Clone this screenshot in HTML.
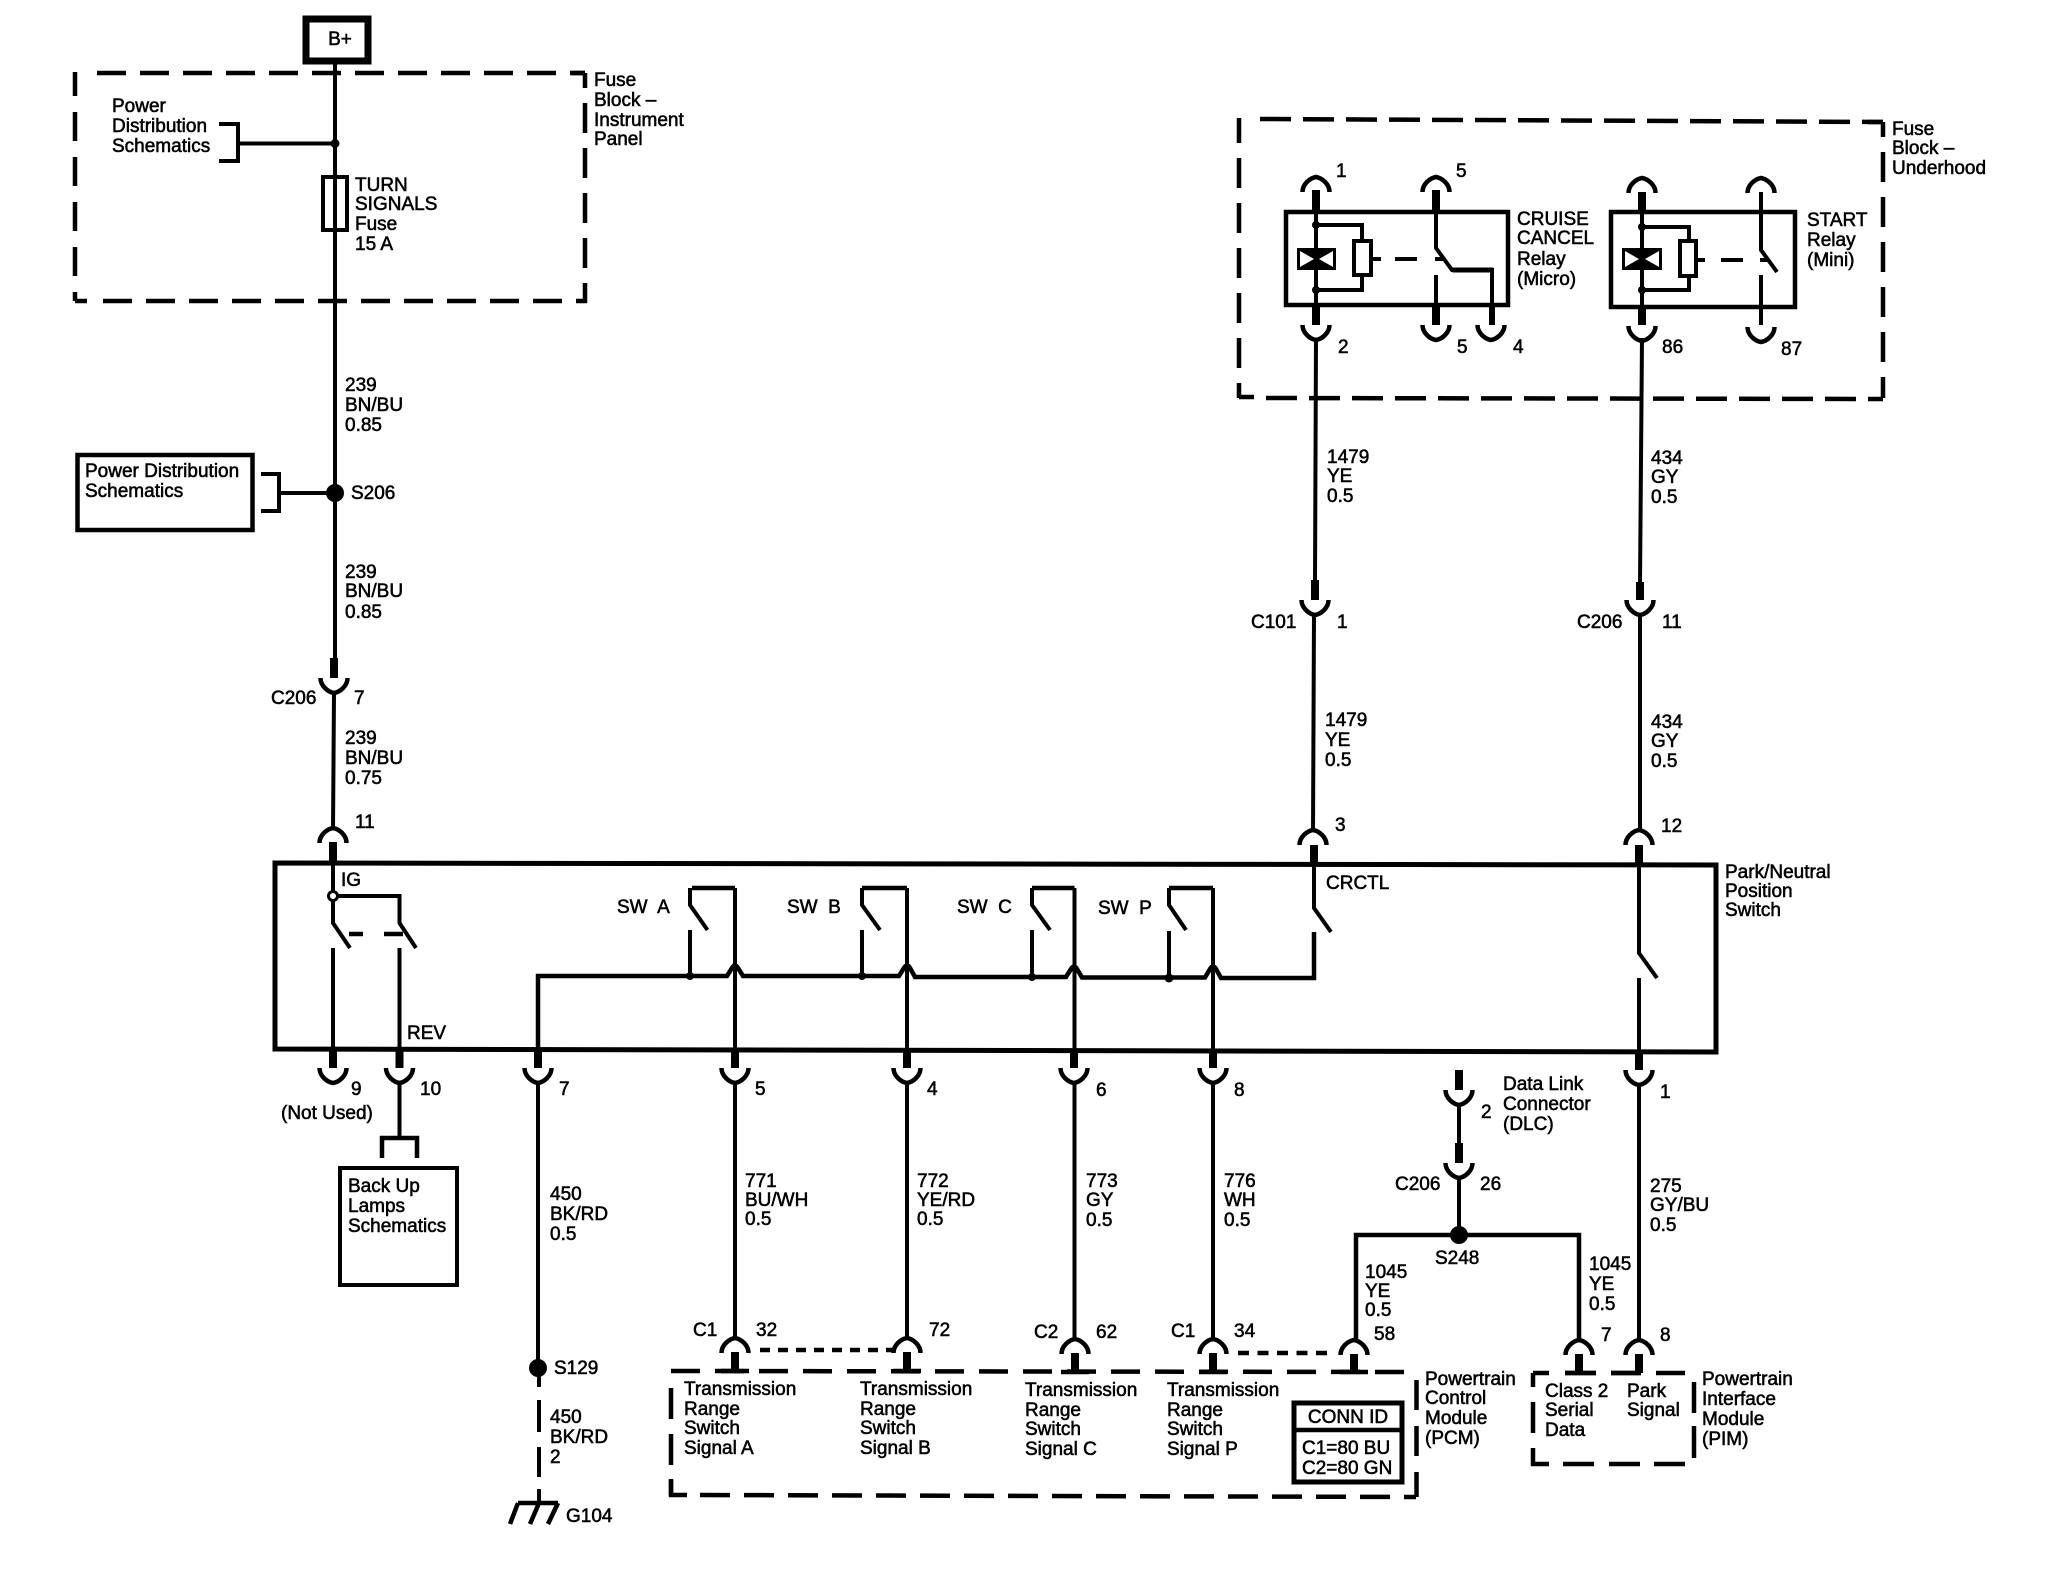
<!DOCTYPE html>
<html><head><meta charset="utf-8">
<style>
html,body{margin:0;padding:0;background:#fff;width:2050px;height:1584px;overflow:hidden}
svg{display:block}
text{font-family:"Liberation Sans",sans-serif;font-size:19px;fill:#000;stroke:#000;stroke-width:.55px;transform:translateY(-1px)}
.w{fill:none;stroke:#000;stroke-width:4}
.b{fill:none;stroke:#000;stroke-width:4.500}
.s{fill:none;stroke:#000;stroke-width:8}
.d{fill:none;stroke:#000;stroke-width:4.500}
</style></head><body>
<svg xmlns="http://www.w3.org/2000/svg" width="2050" height="1584" viewBox="0 0 2050 1584">
<defs>
<path id="cup" d="M-13.5,0 C-13.5,8 -6,14 0,15 C6,14 13.5,8 13.5,0" fill="none" stroke="#000" stroke-width="4.5"/>
<path id="cap" d="M-13.5,15 C-13.5,7 -6,1 0,0 C6,1 13.5,7 13.5,15" fill="none" stroke="#000" stroke-width="4.5"/>
</defs>
<rect width="2050" height="1584" fill="#fff"/>

<!-- B+ -->
<rect x="306" y="19" width="62" height="42" fill="#fff" stroke="#000" stroke-width="7"/>
<text x="340" y="46" text-anchor="middle" style="font-size:19px">B+</text>

<!-- Fuse block IP -->
<line class="d" x1="97" y1="73" x2="585" y2="73" stroke-dasharray="29 14"/>
<path class="d" d="M585,73 H571"/>
<line class="d" x1="75" y1="72" x2="75" y2="301" stroke-dasharray="29 16" stroke-dashoffset="5"/>
<line class="d" x1="585" y1="73" x2="585" y2="303" stroke-dasharray="30 15" stroke-dashoffset="15"/>
<line class="d" x1="103" y1="301" x2="587" y2="301" stroke-dasharray="29 14"/>
<path class="d" d="M75,301 H87"/>

<line class="w" x1="335" y1="62" x2="335" y2="660"/>
<circle cx="335" cy="143.500" r="4.500"/>
<path class="w" d="M238,143.500 H335"/>
<path class="w" d="M219,124 H238 V161 H219"/>
<rect x="323" y="177" width="24" height="53" fill="none" stroke="#000" stroke-width="4"/>

<text x="112" y="113">Power</text>
<text x="112" y="133">Distribution</text>
<text x="112" y="153">Schematics</text>
<text x="594" y="87">Fuse</text>
<text x="594" y="107">Block –</text>
<text x="594" y="127">Instrument</text>
<text x="594" y="146">Panel</text>
<text x="355" y="192">TURN</text>
<text x="355" y="211">SIGNALS</text>
<text x="355" y="231">Fuse</text>
<text x="355" y="251">15 A</text>

<text x="345" y="392">239</text>
<text x="345" y="412">BN/BU</text>
<text x="345" y="432">0.85</text>

<!-- Power dist box -->
<rect x="77.500" y="455" width="175" height="75" fill="none" stroke="#000" stroke-width="4.500"/>
<text x="85" y="478">Power Distribution</text>
<text x="85" y="498">Schematics</text>
<path class="w" d="M261,474 H279 V511 H261"/>
<path class="w" d="M279,493 H335"/>
<circle cx="335" cy="493" r="9"/>
<text x="351" y="500">S206</text>

<text x="345" y="579">239</text>
<text x="345" y="598">BN/BU</text>
<text x="345" y="619">0.85</text>
<rect x="330" y="658" width="8" height="20"/>
<use href="#cup" x="334" y="678"/>
<text x="271" y="705">C206</text>
<text x="354" y="705">7</text>
<path class="w" d="M334,693 L333,830"/>
<text x="345" y="745">239</text>
<text x="345" y="765">BN/BU</text>
<text x="345" y="785">0.75</text>
<text x="355" y="829">11</text>
<use href="#cap" x="333" y="828"/>

<!-- Fuse block underhood -->
<line class="d" x1="1260" y1="119" x2="1883" y2="122" stroke-dasharray="31 12"/>
<path class="d" d="M1868,122 H1883"/>
<line class="d" x1="1239" y1="118" x2="1239" y2="398" stroke-dasharray="30 15" stroke-dashoffset="5"/>
<line class="d" x1="1883" y1="122" x2="1883" y2="398" stroke-dasharray="30 15" stroke-dashoffset="15"/>
<line class="d" x1="1266" y1="398" x2="1883" y2="399" stroke-dasharray="31 12"/>
<path class="d" d="M1239,397 H1254"/>

<!-- Cruise relay -->
<rect x="1286" y="212" width="222" height="93" fill="none" stroke="#000" stroke-width="4.500"/>
<use href="#cap" x="1316" y="177"/>
<use href="#cap" x="1436" y="177"/>
<rect x="1312" y="190" width="8" height="24"/>
<rect x="1432" y="190" width="8" height="24"/>
<path class="w" d="M1316,212 V305"/>
<circle cx="1316" cy="225" r="4"/><circle cx="1316" cy="290" r="4"/>
<path class="w" d="M1316,225 H1362 V240 M1316,290 H1362 V275"/>
<rect x="1297" y="248" width="39" height="22"/>
<path d="M1300,251 V267 L1314,259 Z M1333,251 V267 L1319,259 Z" fill="#fff"/>
<rect x="1354" y="241" width="17" height="34" fill="#fff" stroke="#000" stroke-width="4"/>
<path class="w" d="M1371,259 H1381 M1395,259 H1417 M1435,259 H1445"/>
<path class="w" d="M1436,212 V248 L1452,270 H1492 V305"/>
<path class="w" d="M1452.500,270 H1493" style="stroke-width:5"/>
<path class="w" d="M1436,275 V305"/>
<rect x="1312" y="305" width="8" height="20"/>
<rect x="1432" y="305" width="8" height="20"/>
<rect x="1489" y="305" width="6" height="20"/>
<use href="#cup" x="1316" y="325"/>
<use href="#cup" x="1436" y="325"/>
<use href="#cup" x="1491" y="325"/>
<text x="1336" y="178">1</text>
<text x="1456" y="178">5</text>
<text x="1338" y="354">2</text>
<text x="1457" y="354">5</text>
<text x="1513" y="354">4</text>
<text x="1517" y="226">CRUISE</text>
<text x="1517" y="245">CANCEL</text>
<text x="1517" y="266">Relay</text>
<text x="1517" y="286">(Micro)</text>

<!-- Start relay -->
<rect x="1611" y="212" width="184" height="95" fill="none" stroke="#000" stroke-width="4.500"/>
<use href="#cap" x="1642" y="178"/>
<use href="#cap" x="1761" y="178"/>
<rect x="1638" y="192" width="8" height="22"/>
<path class="w" d="M1761,192 V250 L1777,272"/>
<path class="w" d="M1642,212 V307"/>
<circle cx="1642" cy="227" r="4"/><circle cx="1642" cy="290" r="4"/>
<path class="w" d="M1642,227 H1689 V241 M1642,290 H1689 V276"/>
<rect x="1622" y="248" width="40" height="22"/>
<path d="M1625,251 V267 L1639,259 Z M1659,251 V267 L1645,259 Z" fill="#fff"/>
<rect x="1680" y="241" width="16" height="35" fill="#fff" stroke="#000" stroke-width="4"/>
<path class="w" d="M1696,260 H1705 M1721,260 H1743 M1760,260 H1769"/>
<path class="w" d="M1761,275 V325"/>
<rect x="1638" y="307" width="8" height="18"/>
<use href="#cup" x="1642" y="326"/>
<use href="#cup" x="1761" y="327"/>
<text x="1662" y="354">86</text>
<text x="1781" y="356">87</text>
<text x="1807" y="227">START</text>
<text x="1807" y="247">Relay</text>
<text x="1807" y="267">(Mini)</text>
<text x="1892" y="136">Fuse</text>
<text x="1892" y="155">Block –</text>
<text x="1892" y="175">Underhood</text>

<!-- Right vertical wires -->
<path class="w" d="M1316,338 L1315,582"/>
<rect x="1311" y="580" width="8" height="20"/>
<use href="#cup" x="1315" y="600"/>
<path class="w" d="M1314,614 L1313,832"/>
<use href="#cap" x="1313" y="830"/>
<path class="w" d="M1642,338 L1640,584"/>
<rect x="1636" y="582" width="8" height="18"/>
<use href="#cup" x="1640" y="600"/>
<path class="w" d="M1640,614 V832"/>
<use href="#cap" x="1639" y="830"/>
<text x="1327" y="464">1479</text>
<text x="1327" y="483">YE</text>
<text x="1327" y="503">0.5</text>
<text x="1651" y="465">434</text>
<text x="1651" y="484">GY</text>
<text x="1651" y="504">0.5</text>
<text x="1251" y="629">C101</text>
<text x="1337" y="629">1</text>
<text x="1577" y="629">C206</text>
<text x="1662" y="629">11</text>
<text x="1325" y="727">1479</text>
<text x="1325" y="747">YE</text>
<text x="1325" y="767">0.5</text>
<text x="1651" y="729">434</text>
<text x="1651" y="748">GY</text>
<text x="1651" y="768">0.5</text>
<text x="1335" y="832">3</text>
<text x="1661" y="833">12</text>

<!-- Park/Neutral box -->
<path d="M275,863 L1716,865 V1052 L275,1049 Z" fill="none" stroke="#000" stroke-width="5"/>
<rect x="329" y="842" width="8" height="22"/>
<rect x="1310" y="845" width="8" height="20"/>
<rect x="1635" y="845" width="8" height="20"/>
<text x="1725" y="879">Park/Neutral</text>
<text x="1725" y="898">Position</text>
<text x="1725" y="917">Switch</text>

<!-- IG / REV -->
<path class="w" d="M333,860 V891 M333,901 V923 L350,948"/>
<circle cx="333" cy="896" r="4.500" fill="#fff" stroke="#000" stroke-width="3"/>
<path class="w" d="M338,896 H399.500 V923 L416,948"/>
<path class="b" d="M349,934 H363 M384,934 H403"/>
<path class="w" d="M333,948 V1050 M399.500,948 V1050"/>
<text x="341" y="887">IG</text>
<text x="407" y="1040">REV</text>
<rect x="329" y="1050" width="8" height="18"/>
<rect x="395.500" y="1050" width="8" height="18"/>
<use href="#cup" x="333" y="1068"/>
<use href="#cup" x="399.500" y="1068"/>
<text x="351" y="1096">9</text>
<text x="420" y="1096">10</text>
<text x="281" y="1120">(Not Used)</text>
<path class="w" d="M399.500,1082 V1138"/>
<path class="b" d="M382,1158 V1138 H417 V1158"/>
<rect x="340" y="1168" width="117" height="117" fill="none" stroke="#000" stroke-width="4"/>
<text x="348" y="1193">Back Up</text>
<text x="348" y="1213">Lamps</text>
<text x="348" y="1233">Schematics</text>

<!-- SW bus -->
<path class="b" d="M538,1050 V976 H727 L732,968 Q735,963 738,968 L743,976 H899 L904,968 Q907,963 910,968 L915,977 H1066 L1071,969 Q1074,964 1077,969 L1082,977.500 H1205 L1210,969 Q1213,964 1216,969 L1221,978 H1314 V932"/>
<path class="w" d="M735,888 V1050 M907,888 V1050 M1074.500,888 V1050 M1213,888 V1050"/>
<path class="b" d="M692,888 H735 M862,888 H907 M1032,888 H1074.500 M1169,888 H1213"/>
<path class="w" d="M690,888 V905 L707.500,930 M690,930 V976"/>
<path class="w" d="M862,888 V905 L880,930 M862,930 V976"/>
<path class="w" d="M1032,888 V905 L1050,930 M1032,930 V976"/>
<path class="w" d="M1169,888 V905 L1186,930 M1169,931 V977"/>
<circle cx="690" cy="976" r="4"/><circle cx="862" cy="976" r="4"/><circle cx="1032" cy="977" r="4"/><circle cx="1169" cy="978" r="4.500"/>
<text x="617" y="914">SW&#160; A</text>
<text x="787" y="914">SW&#160; B</text>
<text x="957" y="914">SW&#160; C</text>
<text x="1098" y="915">SW&#160; P</text>
<path class="w" d="M1314,865 V908 L1331,932"/>
<text x="1326" y="890">CRCTL</text>
<path class="w" d="M1639,865 V953 L1657,978 M1639,978 V1054"/>

<!-- lower connectors -->
<rect x="534" y="1050" width="8" height="18"/>
<rect x="731" y="1050" width="8" height="18"/>
<rect x="903" y="1050" width="8" height="18"/>
<rect x="1070" y="1050" width="8" height="18"/>
<rect x="1209" y="1050" width="8" height="18"/>
<rect x="1635" y="1052" width="8" height="18"/>
<use href="#cup" x="538" y="1068"/>
<use href="#cup" x="735" y="1068"/>
<use href="#cup" x="907" y="1068"/>
<use href="#cup" x="1074" y="1068"/>
<use href="#cup" x="1213" y="1068"/>
<use href="#cup" x="1639" y="1070"/>
<text x="559" y="1096">7</text>
<text x="755" y="1096">5</text>
<text x="927" y="1096">4</text>
<text x="1096" y="1097">6</text>
<text x="1234" y="1097">8</text>
<text x="1660" y="1099">1</text>

<path class="w" d="M538,1082 V1368"/>
<path class="w" d="M735,1082 V1340 M907,1082 V1340 M1074.500,1082 V1340 M1213,1082 V1340"/>
<path class="w" d="M1639,1084 V1342"/>

<text x="550" y="1201">450</text>
<text x="550" y="1221">BK/RD</text>
<text x="550" y="1241">0.5</text>
<text x="745" y="1188">771</text>
<text x="745" y="1207">BU/WH</text>
<text x="745" y="1226">0.5</text>
<text x="917" y="1188">772</text>
<text x="917" y="1207">YE/RD</text>
<text x="917" y="1226">0.5</text>
<text x="1086" y="1188">773</text>
<text x="1086" y="1207">GY</text>
<text x="1086" y="1227">0.5</text>
<text x="1224" y="1188">776</text>
<text x="1224" y="1207">WH</text>
<text x="1224" y="1227">0.5</text>
<text x="1650" y="1193">275</text>
<text x="1650" y="1212">GY/BU</text>
<text x="1650" y="1232">0.5</text>

<!-- DLC -->
<rect x="1455" y="1070" width="8" height="20"/>
<use href="#cup" x="1459" y="1090"/>
<path class="w" d="M1459,1104 V1145"/>
<rect x="1455" y="1143" width="8" height="20"/>
<use href="#cup" x="1459" y="1163"/>
<path class="w" d="M1459,1177 V1235"/>
<circle cx="1466" cy="1241" r="0" />
<circle cx="1459" cy="1235" r="9"/>
<path class="b" d="M1356,1340 V1235 H1579 V1340"/>
<text x="1503" y="1091">Data Link</text>
<text x="1503" y="1111">Connector</text>
<text x="1503" y="1131">(DLC)</text>
<text x="1481" y="1119">2</text>
<text x="1395" y="1191">C206</text>
<text x="1480" y="1191">26</text>
<text x="1435" y="1265">S248</text>
<text x="1365" y="1279">1045</text>
<text x="1365" y="1298">YE</text>
<text x="1365" y="1317">0.5</text>
<text x="1589" y="1271">1045</text>
<text x="1589" y="1291">YE</text>
<text x="1589" y="1311">0.5</text>

<!-- S129 ground -->
<circle cx="538" cy="1368" r="9"/>
<path class="w" d="M539,1368 V1387 M539,1400 V1432 M539,1447 V1477 M539,1489 V1503"/>
<path class="w" d="M518,1503 H558 M518,1503 L510,1524 M539,1503 L530,1524 M558,1503 L548,1524" style="stroke-width:4.500"/>
<text x="554" y="1375">S129</text>
<text x="550" y="1424">450</text>
<text x="550" y="1444">BK/RD</text>
<text x="550" y="1464">2</text>
<text x="566" y="1523">G104</text>

<!-- PCM -->
<line class="d" x1="671" y1="1371" x2="1409" y2="1372" stroke-dasharray="29 15"/>
<line class="d" x1="671" y1="1388" x2="671" y2="1495" stroke-dasharray="31 15"/>
<path class="d" d="M671,1479 V1495 H687"/>
<line class="d" x1="700" y1="1495" x2="1416" y2="1497" stroke-dasharray="30 14"/>
<line class="d" x1="1416.500" y1="1380" x2="1416.500" y2="1497" stroke-dasharray="30 16"/>

<use href="#cap" x="735" y="1338"/>
<use href="#cap" x="907" y="1338"/>
<use href="#cap" x="1075" y="1339"/>
<use href="#cap" x="1213" y="1339"/>
<use href="#cap" x="1354" y="1340"/>
<use href="#cap" x="1579" y="1340"/>
<use href="#cap" x="1639" y="1340"/>
<rect x="731" y="1352" width="8" height="19"/>
<rect x="903" y="1352" width="8" height="19"/>
<rect x="1071" y="1353" width="8" height="19"/>
<rect x="1209" y="1353" width="8" height="19"/>
<rect x="1350" y="1354" width="8" height="18"/>
<rect x="1575" y="1354" width="8" height="19"/>
<rect x="1635" y="1354" width="8" height="19"/>
<path class="d" d="M721,1371 H749 M893,1371 H921 M1061,1372 H1089 M1199,1372 H1227 M1340,1372 H1368 M1565,1373 H1596 M1611,1373 H1641"/>
<line x1="760" y1="1350" x2="893" y2="1350" stroke="#000" stroke-width="4.500" stroke-dasharray="10 8"/>
<line x1="1238" y1="1353" x2="1335" y2="1353" stroke="#000" stroke-width="4.500" stroke-dasharray="11 8.500"/>

<text x="693" y="1337">C1</text>
<text x="756" y="1337">32</text>
<text x="929" y="1337">72</text>
<text x="1034" y="1339">C2</text>
<text x="1096" y="1339">62</text>
<text x="1171" y="1338">C1</text>
<text x="1234" y="1338">34</text>
<text x="1374" y="1341">58</text>
<text x="1601" y="1342">7</text>
<text x="1660" y="1342">8</text>

<text x="684" y="1396">Transmission</text>
<text x="684" y="1416">Range</text>
<text x="684" y="1435">Switch</text>
<text x="684" y="1455">Signal A</text>
<text x="860" y="1396">Transmission</text>
<text x="860" y="1416">Range</text>
<text x="860" y="1435">Switch</text>
<text x="860" y="1455">Signal B</text>
<text x="1025" y="1397">Transmission</text>
<text x="1025" y="1417">Range</text>
<text x="1025" y="1436">Switch</text>
<text x="1025" y="1456">Signal C</text>
<text x="1167" y="1397">Transmission</text>
<text x="1167" y="1417">Range</text>
<text x="1167" y="1436">Switch</text>
<text x="1167" y="1456">Signal P</text>

<rect x="1294" y="1403" width="108" height="79" fill="#fff" stroke="#000" stroke-width="5"/>
<path class="b" d="M1292,1430 H1404"/>
<text x="1348" y="1424" text-anchor="middle">CONN ID</text>
<text x="1302" y="1455">C1=80 BU</text>
<text x="1302" y="1475">C2=80 GN</text>

<text x="1425" y="1386">Powertrain</text>
<text x="1425" y="1405">Control</text>
<text x="1425" y="1425">Module</text>
<text x="1425" y="1445">(PCM)</text>

<!-- PIM -->
<line class="d" x1="1533" y1="1373" x2="1685" y2="1373" stroke-dasharray="16 16 31 15 30 15 29 0"/>
<line class="d" x1="1533" y1="1373" x2="1533" y2="1387"/>
<line class="d" x1="1533" y1="1402" x2="1533" y2="1433"/>
<path class="d" d="M1533,1448 V1464 H1549"/>
<line class="d" x1="1694" y1="1382" x2="1694" y2="1413"/>
<line class="d" x1="1694" y1="1426" x2="1694" y2="1458"/>
<path class="d" d="M1563,1464 H1594 M1609,1464 H1640 M1654,1464 H1685"/>
<text x="1545" y="1398">Class 2</text>
<text x="1545" y="1417">Serial</text>
<text x="1545" y="1437">Data</text>
<text x="1627" y="1398">Park</text>
<text x="1627" y="1417">Signal</text>
<text x="1702" y="1386">Powertrain</text>
<text x="1702" y="1406">Interface</text>
<text x="1702" y="1426">Module</text>
<text x="1702" y="1446">(PIM)</text>
</svg>
</body></html>
